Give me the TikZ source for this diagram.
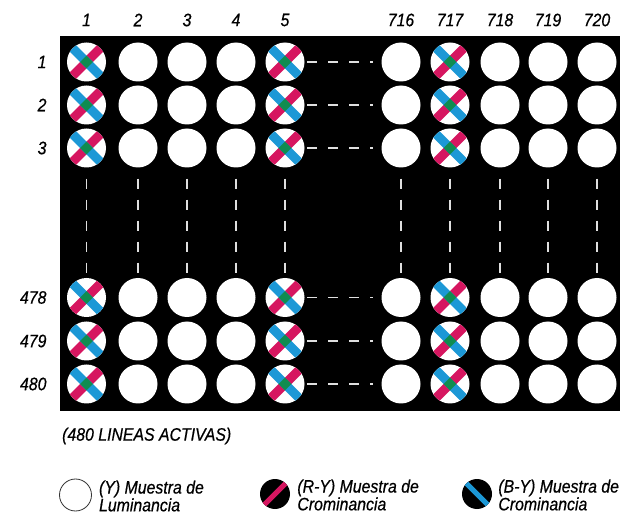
\documentclass[tikz,border=0pt]{standalone}
\usepackage{fontspec}
\setmainfont{Liberation Sans}[FakeStretch=0.88,FakeBold=0.6]
\usetikzlibrary{positioning}
\definecolor{ryMag}{RGB}{214,22,96}
\definecolor{byBlue}{RGB}{28,152,214}
\definecolor{crGreen}{RGB}{16,140,80}
\newcommand{\lbl}{\fontsize{18}{16}\selectfont\itshape}
% columns: number / x / kind of sample
\newcommand{\cols}{1/86.5/chroma,2/138/luma,3/187/luma,4/236/luma,5/285/chroma,
  716/401/luma,717/450/chroma,718/500/luma,719/548/luma,720/597/luma}

\begin{document}
\begin{tikzpicture}[x=1pt,y=-1pt,
  luma/.style={circle,fill=white,inner sep=0,minimum size=39pt},
  chroma/.style={luma,path picture={
    \draw[ryMag,line width=9pt] (path picture bounding box.north east) -- (path picture bounding box.south west);
    \draw[byBlue,line width=9pt] (path picture bounding box.north west) -- (path picture bounding box.south east);
    \fill[crGreen] (path picture bounding box.center) +(-6.4pt,0pt) -- +(0pt,6.4pt) -- +(6.4pt,0pt) -- +(0pt,-6.4pt) -- cycle;}},
  lumaKey/.style={circle,draw=black!80,line width=0.8pt,fill=white,inner sep=0,minimum size=32pt},
  ryKey/.style={circle,fill=black,inner sep=0,minimum size=30pt,path picture={
    \draw[ryMag,line width=5pt] (path picture bounding box.north east) -- (path picture bounding box.south west);}},
  byKey/.style={circle,fill=black,inner sep=0,minimum size=30pt,path picture={
    \draw[byBlue,line width=5pt] (path picture bounding box.north west) -- (path picture bounding box.south east);}},
  keytext/.style={font=\lbl,align=left,inner sep=0},
  gap/.style={gray!25,line width=1.6pt,dash pattern=on 10pt off 11pt}]
  \useasboundingbox (0,0) rectangle (625,516);
  \fill (60,36) rectangle (620,411);

  \foreach \c/\x/\s in \cols
    \node[font=\lbl] (col\c) at (\x,20) {\c};
  \foreach \r/\y in {1/62,2/105,3/148,478/297.5,479/341,480/384}{
    \node[anchor=east,font=\lbl] (row\r) at (50,\y) {\r};
    \foreach \c/\x/\s in \cols
      \node[\s] (s\r c\c) at (\x,\y) {};
  }

  % skipped samples and lines
  \foreach \r in {1,2,3,478,479,480}
    \draw[gap,shorten <=2.5pt,shorten >=8pt] (s\r c5.east) -- (s\r c716.west);
  \foreach \c in {1,2,3,4,5,716,717,718,719,720}
    \draw[gap,shorten <=11pt] (s3c\c.south) -- (s478c\c.north);

  \node[anchor=west,font=\lbl,inner sep=0] (lineas) at (62,436) {(480 LINEAS ACTIVAS)};

  % legend
  \node[lumaKey] (keyY) at (75.5,495) {};
  \node[keytext,right=7pt of keyY,yshift=-1pt] (txtY) {(Y) Muestra de\\Luminancia};
  \node[ryKey] (keyRY) at (275,494) {};
  \node[keytext,right=7pt of keyRY,yshift=-1pt] (txtRY) {(R-Y) Muestra de\\Crominancia};
  \node[byKey] (keyBY) at (477,494) {};
  \node[keytext,right=6pt of keyBY,yshift=-1pt] (txtBY) {(B-Y) Muestra de\\Crominancia};
\end{tikzpicture}
\end{document}
